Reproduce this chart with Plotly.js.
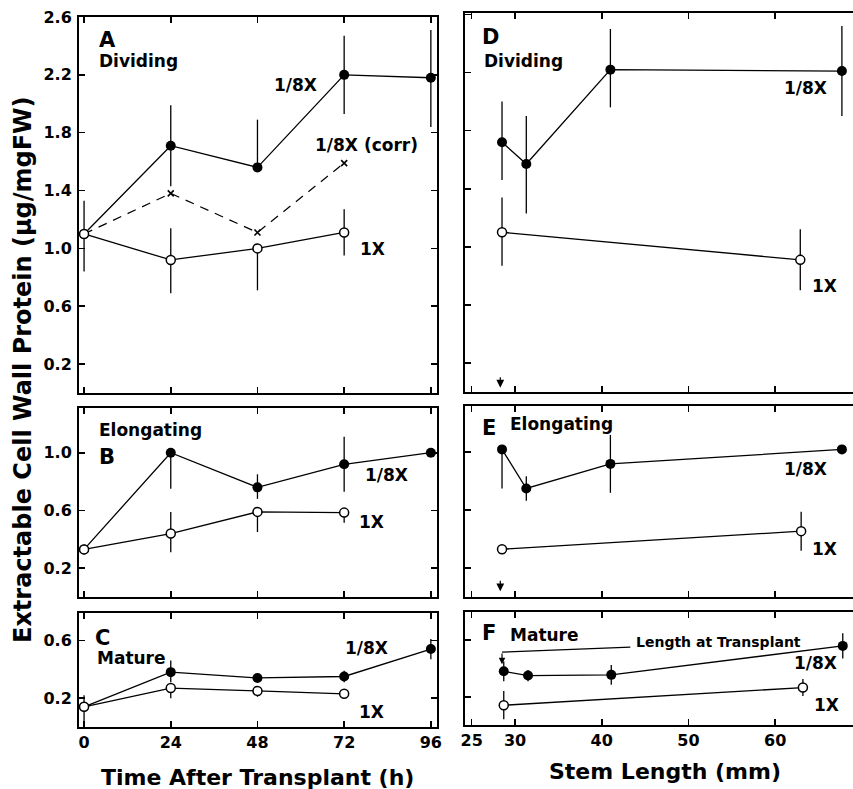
<!DOCTYPE html>
<html>
<head>
<meta charset="utf-8">
<script src="https://cdn.plot.ly/plotly-3.0.1.min.js"></script>
<style>html,body{margin:0;padding:0;background:#fff;}#chart{width:853px;height:789px;}</style>
</head>
<body>
<div id="chart"></div>
<script>
// ---------- DATA ----------
// Left column: time after transplant (h)
const hours18 = [0, 24, 48, 72, 96];
const hours1 = [0, 24, 48, 72];

// Panel A - Dividing
const A_eighth = [1.10, 1.71, 1.56, 2.20, 2.18];
const A_eighth_up = [0, 0.28, 0.33, 0.27, 0.33];
const A_eighth_dn = [0, 0.28, 0, 0.27, 0.34];
const A_corr = [1.10, 1.38, 1.11, 1.59];
const A_one = [1.10, 0.92, 1.00, 1.11];
const A_one_up = [0.23, 0.22, 0, 0.16];
const A_one_dn = [0.26, 0.23, 0.29, 0.16];

// Panel B - Elongating
const B_eighth = [0.33, 1.00, 0.76, 0.92, 1.00];
const B_eighth_up = [0, 0, 0.09, 0.19, 0];
const B_eighth_dn = [0, 0.25, 0.08, 0.19, 0];
const B_one = [0.33, 0.44, 0.59, 0.585];
const B_one_up = [0, 0.15, 0, 0];
const B_one_dn = [0, 0.13, 0.14, 0.07];

// Panel C - Mature
const C_eighth = [0.14, 0.38, 0.34, 0.35, 0.54];
const C_eighth_up = [0, 0.08, 0.03, 0.04, 0.07];
const C_eighth_dn = [0, 0.07, 0.03, 0.04, 0.07];
const C_one = [0.14, 0.27, 0.25, 0.23];
const C_one_up = [0.08, 0, 0.02, 0];
const C_one_dn = [0.14, 0.07, 0.04, 0];

// Right column: stem length (mm)
const D_mm18 = [28.5, 31.3, 41.0, 67.7];
const D_eighth = [1.72, 1.57, 2.22, 2.21];
const D_eighth_up = [0.28, 0.33, 0.28, 0.31];
const D_eighth_dn = [0.26, 0.34, 0.26, 0.31];
const D_mm1 = [28.5, 62.9];
const D_one = [1.10, 0.91];
const D_one_up = [0.24, 0.21];
const D_one_dn = [0.23, 0.21];

const E_mm18 = [28.5, 31.3, 41.0, 67.7];
const E_eighth = [1.02, 0.75, 0.92, 1.02];
const E_eighth_up = [0, 0.085, 0.20, 0];
const E_eighth_dn = [0.27, 0.085, 0.20, 0];
const E_mm1 = [28.5, 63.0];
const E_one = [0.33, 0.455];
const E_one_up = [0, 0.135];
const E_one_dn = [0, 0.135];

const F_mm18 = [28.7, 31.5, 41.1, 67.8];
const F_eighth = [0.38, 0.35, 0.355, 0.56];
const F_eighth_err = [0.07, 0.04, 0.07, 0.09];
const F_mm1 = [28.7, 63.2];
const F_one = [0.14, 0.265];
const F_one_err = [0.10, 0.06];

const transplantLength = 28.3;

// Tick values / labels
const hourTicks = [0, 24, 48, 72, 96];
const mmTicks = [25, 30, 40, 50, 60];
const yTicksA = [0.2, 0.6, 1.0, 1.4, 1.8, 2.2, 2.6];
const yTicksB = [0.2, 0.6, 1.0];
const yTicksC = [0.2, 0.6];
const fmt = v => v.toFixed(1);

// ---------- STYLE ----------
const FONT = 'DejaVu Sans, Liberation Sans, Arial, sans-serif';
const W = 853, H = 789;

function errBar(up, dn) {
  return {type: 'data', symmetric: false, array: up, arrayminus: dn,
          width: 0, thickness: 1.3, color: '#000'};
}
function filled(x, y, up, dn, xa, ya) {
  return {x: x, y: y, xaxis: xa, yaxis: ya, type: 'scatter', mode: 'lines+markers',
          line: {color: '#000', width: 1.3},
          marker: {color: '#000', size: 10, symbol: 'circle'},
          error_y: errBar(up, dn), cliponaxis: false, hoverinfo: 'x+y'};
}
function open(x, y, up, dn, xa, ya) {
  return {x: x, y: y, xaxis: xa, yaxis: ya, type: 'scatter', mode: 'lines+markers',
          line: {color: '#000', width: 1.3},
          marker: {color: '#fff', size: 9, symbol: 'circle', line: {color: '#000', width: 1.5}},
          error_y: errBar(up, dn), cliponaxis: false, hoverinfo: 'x+y'};
}
function dashed(x, y, xa, ya) {
  return {x: x, y: y, xaxis: xa, yaxis: ya, type: 'scatter', mode: 'lines+markers',
          line: {color: '#000', width: 1.2, dash: '9px,7px'},
          marker: {color: '#000', size: 6, symbol: 'x-thin', line: {color: '#000', width: 1.6}},
          cliponaxis: false, hoverinfo: 'x+y'};
}

const data = [
  filled(hours18, A_eighth, A_eighth_up, A_eighth_dn, 'x', 'y'),
  dashed(hours1, A_corr, 'x', 'y'),
  open(hours1, A_one, A_one_up, A_one_dn, 'x', 'y'),
  filled(hours18, B_eighth, B_eighth_up, B_eighth_dn, 'x2', 'y2'),
  open(hours1, B_one, B_one_up, B_one_dn, 'x2', 'y2'),
  filled(hours18, C_eighth, C_eighth_up, C_eighth_dn, 'x3', 'y3'),
  open(hours1, C_one, C_one_up, C_one_dn, 'x3', 'y3'),
  filled(D_mm18, D_eighth, D_eighth_up, D_eighth_dn, 'x4', 'y4'),
  open(D_mm1, D_one, D_one_up, D_one_dn, 'x4', 'y4'),
  filled(E_mm18, E_eighth, E_eighth_up, E_eighth_dn, 'x5', 'y5'),
  open(E_mm1, E_one, E_one_up, E_one_dn, 'x5', 'y5'),
  filled(F_mm18, F_eighth, F_eighth_err, F_eighth_err, 'x6', 'y6'),
  open(F_mm1, F_one, F_one_err, F_one_err, 'x6', 'y6')
];

// Geometry (pixels -> paper)
const px = v => v / W;
const py = v => 1 - v / H;
const leftDom = [px(79), px(437)];
const rightDom = [px(465), 1];

function xAxis(dom, range, ticks, showLabels, anchor) {
  return {domain: dom, range: range, anchor: anchor, tickmode: 'array',
          tickvals: ticks, ticktext: ticks.map(String), showticklabels: showLabels,
          ticks: 'inside', ticklen: 6, tickwidth: 1.6, tickcolor: '#000',
          showline: true, linecolor: '#000', linewidth: 2, mirror: 'ticks',
          showgrid: false, zeroline: false, fixedrange: true,
          tickfont: {family: FONT, size: 16, color: '#000', weight: 'bold'}};
}
function yAxis(top, bottom, range, ticks, showLabels, anchor, mirror) {
  return {domain: [py(bottom), py(top)], range: range, anchor: anchor, tickmode: 'array',
          tickvals: ticks, ticktext: ticks.map(fmt), showticklabels: showLabels,
          ticks: 'inside', ticklen: 6, tickwidth: 1.6, tickcolor: '#000',
          showline: true, linecolor: '#000', linewidth: 2, mirror: mirror,
          showgrid: false, zeroline: false, fixedrange: true, ticklabelstandoff: 2,
          tickfont: {family: FONT, size: 16, color: '#000', weight: 'bold'}};
}

const leftRange = [-1.4, 97.7];
const rightRange = [24.23, 68.98];

const layout = {
  width: W, height: H, margin: {l: 0, r: 0, t: 0, b: 0},
  paper_bgcolor: '#fff', plot_bgcolor: '#fff', showlegend: false,
  font: {family: FONT, color: '#000'},
  xaxis:  xAxis(leftDom, leftRange, hourTicks, false, 'y'),
  xaxis2: xAxis(leftDom, leftRange, hourTicks, false, 'y2'),
  xaxis3: xAxis(leftDom, leftRange, hourTicks, true, 'y3'),
  xaxis4: xAxis(rightDom, rightRange, mmTicks, false, 'y4'),
  xaxis5: xAxis(rightDom, rightRange, mmTicks, false, 'y5'),
  xaxis6: xAxis(rightDom, rightRange, mmTicks, true, 'y6'),
  yaxis:  yAxis(17, 393, [0, 2.6], yTicksA, true, 'x', 'ticks'),
  yaxis2: yAxis(408, 597, [0, 1.31], yTicksB, true, 'x2', 'ticks'),
  yaxis3: yAxis(613, 727, [0, 0.79], yTicksC, true, 'x3', 'ticks'),
  yaxis4: yAxis(13, 392, [0, 2.61], yTicksA, false, 'x4', false),
  yaxis5: yAxis(406, 597, [0, 1.32], yTicksB, false, 'x5', false),
  yaxis6: yAxis(612, 725, [0, 0.80], yTicksC, false, 'x6', false),
  shapes: [
    {type: 'line', xref: 'x6', yref: 'y6', x0: 43.3, y0: 0.551, x1: transplantLength + 0.2, y1: 0.516,
     line: {color: '#000', width: 1.2}}
  ],
  annotations: []
};

// Text labels: [text, left px, center-y px, size]
const labels = [
  ['A', 97, 40, 21], ['Dividing', 97, 61, 17], ['1/8X', 272, 85, 17], ['1/8X (corr)', 313, 145, 17], ['1X', 358, 249, 17],
  ['Elongating', 97, 430, 17], ['B', 97, 457, 21], ['1/8X', 363, 475, 17], ['1X', 357, 522, 17],
  ['C', 93, 638, 21], ['Mature', 95, 658, 17], ['1/8X', 343, 648, 17], ['1X', 357, 712, 17],
  ['D', 480, 37, 21], ['Dividing', 482, 61, 17], ['1/8X', 782, 88, 17], ['1X', 810, 286, 17],
  ['E', 480, 428, 21], ['Elongating', 508, 424, 17], ['1/8X', 782, 469, 17], ['1X', 810, 549, 17],
  ['F', 480, 633, 21], ['Mature', 508, 635, 17], ['Length at Transplant', 634, 642, 14], ['1/8X', 792, 663, 17], ['1X', 812, 705, 17]
];
labels.forEach(l => layout.annotations.push({
  text: l[0], xref: 'paper', yref: 'paper', x: px(l[1]), y: py(l[2]),
  xanchor: 'left', yanchor: 'middle', showarrow: false,
  font: {family: FONT, size: l[3], color: '#000', weight: 'bold'}
}));

// Axis titles
layout.annotations.push({
  text: 'Extractable Cell Wall Protein (µg/mgFW)', xref: 'paper', yref: 'paper',
  x: px(23), y: py(370), textangle: -90, showarrow: false, xanchor: 'center', yanchor: 'middle',
  font: {family: FONT, size: 24, color: '#000', weight: 'bold'}
});
layout.annotations.push({
  text: 'Time After Transplant (h)', xref: 'paper', yref: 'paper',
  x: px(257), y: py(777), showarrow: false, xanchor: 'center', yanchor: 'middle',
  font: {family: FONT, size: 22, color: '#000', weight: 'bold'}
});
layout.annotations.push({
  text: 'Stem Length (mm)', xref: 'paper', yref: 'paper',
  x: px(665), y: py(771), showarrow: false, xanchor: 'center', yanchor: 'middle',
  font: {family: FONT, size: 22, color: '#000', weight: 'bold'}
});

// Transplant arrows
[['x4', 'y4', 0.03], ['x5', 'y5', 0.04]].forEach(a => layout.annotations.push({
  text: '', xref: a[0], yref: a[1], x: transplantLength, y: a[2], showarrow: true,
  ax: 0, ay: -12, arrowhead: 2, arrowsize: 1.3, arrowwidth: 1.2, arrowcolor: '#000'
}));
layout.annotations.push({
  text: '', xref: 'x6', yref: 'y6', x: transplantLength + 0.2, y: 0.43, showarrow: true,
  axref: 'x6', ayref: 'y6', ax: transplantLength + 0.2, ay: 0.516,
  arrowhead: 2, arrowsize: 1.1, arrowwidth: 1.2, arrowcolor: '#000'
});

Plotly.newPlot('chart', data, layout, {displayModeBar: false, staticPlot: true});
</script>
</body>
</html>
